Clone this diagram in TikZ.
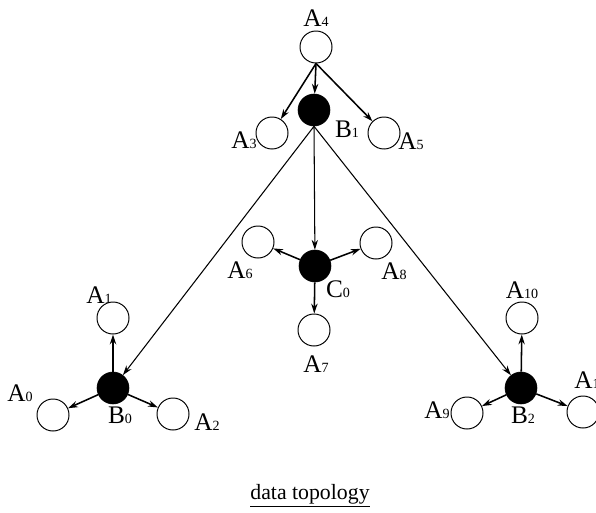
\documentclass[tikz,border=0pt]{standalone}
\usepackage{fontspec}
\setmainfont{Liberation Serif}
\usetikzlibrary{arrows.meta}
\newcommand{\nm}[2]{#1{\fontsize{10}{11}\selectfont #2}}

\begin{document}
\begin{tikzpicture}[x=0.025cm, y=-0.025cm,
  leaf/.style={draw, circle, minimum size=0.8cm, inner sep=0pt, line width=0.7pt},
  hub/.style={draw, fill=black, circle, minimum size=0.8cm, inner sep=0pt},
  lbl/.style={font=\fontsize{18}{20}\selectfont, inner sep=0pt},
  arr/.style={-{Stealth[length=7pt, width=4.5pt]}, line width=1.1pt},
  longarr/.style={-{Stealth[length=7pt, width=4.5pt]}, line width=0.75pt}
]
\useasboundingbox (0,0) rectangle (596,512);

%% Top group
\node[leaf] (a4) at (316, 47) {};
\node[hub]  (b1) at (314,110) {};
\node[leaf] (a3) at (272,133) {};
\node[leaf] (a5) at (384,133) {};

%% Centre group
\node[hub]  (c0) at (315,266) {};
\node[leaf] (a6) at (258,242) {};
\node[leaf] (a8) at (376,243) {};
\node[leaf] (a7) at (314,330) {};

%% Left group
\node[hub]  (b0) at (113,388) {};
\node[leaf] (a1) at (113,318) {};
\node[leaf] (a0) at ( 53,415) {};
\node[leaf] (a2) at (173,414) {};

%% Right group
\node[hub]  (b2) at (521,388) {};
\node[leaf] (a10) at (522,318) {};
\node[leaf] (a9)  at (467,413) {};
\node[leaf] (a11) at (583,412) {};

%% Labels
\node[lbl] (la4)  at (316, 18) {\nm{A}{4}};
\node[lbl] (lb1)  at (347,129) {\nm{B}{1}};
\node[lbl] (la3)  at (244,140) {\nm{A}{3}};
\node[lbl] (la5)  at (411,141) {\nm{A}{5}};
\node[lbl] (lc0)  at (338,289) {\nm{C}{0}};
\node[lbl] (la6)  at (240,270) {\nm{A}{6}};
\node[lbl] (la8)  at (394,271) {\nm{A}{8}};
\node[lbl] (la7)  at (316,364) {\nm{A}{7}};
\node[lbl] (lb0)  at (120,415) {\nm{B}{0}};
\node[lbl] (la1)  at ( 99,295) {\nm{A}{1}};
\node[lbl] (la0)  at ( 20,393) {\nm{A}{0}};
\node[lbl] (la2)  at (207,422) {\nm{A}{2}};
\node[lbl] (lb2)  at (523,415) {\nm{B}{2}};
\node[lbl] (la10) at (522,290) {\nm{A}{10}};
\node[lbl] (la9)  at (437,410) {\nm{A}{9}};
\node[lbl, anchor=west] (la11) at (574,380) {\nm{A}{11}};

%% Caption
\node[lbl, font=\fontsize{15.5}{17}\selectfont] (cap) at (310,496) {\underline{data topology}};

%% Top arrows
\draw[arr] (a4.south) -- (b1);
\draw[arr] (a4.south) -- (a3);
\draw[arr] (a4.south) -- (a5);

%% Long arrows from B1
\draw[longarr] (b1.south) -- (c0);
\draw[longarr] (b1.south) -- (b0);
\draw[longarr] (b1.south) -- (b2);

%% Centre arrows
\draw[arr] (c0) -- (a6);
\draw[arr] (c0) -- (a8);
\draw[arr] (c0) -- (a7);

%% Left arrows
\draw[arr] (b0) -- (a1);
\draw[arr] (b0) -- (a0);
\draw[arr] (b0) -- (a2);

%% Right arrows
\draw[arr] (b2) -- (a10);
\draw[arr] (b2) -- (a9);
\draw[arr] (b2) -- (a11);

\end{tikzpicture}
\end{document}
